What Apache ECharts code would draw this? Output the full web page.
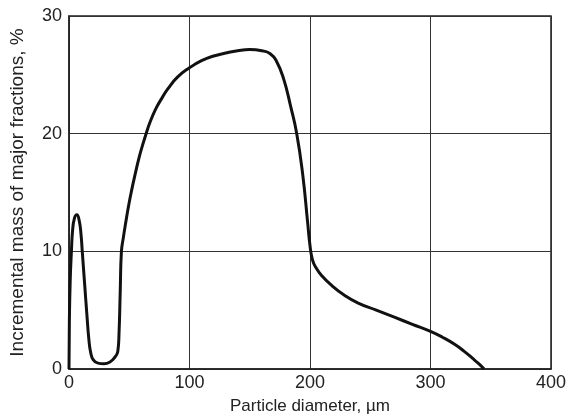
<!DOCTYPE html>
<html>
<head>
<meta charset="utf-8">
<script src="https://cdn.jsdelivr.net/npm/echarts@6/dist/echarts.min.js"></script>
<style>html,body{margin:0;padding:0;background:#fff;}#c{width:569px;height:420px;}</style>
</head>
<body>
<div id="c"></div>
<script>
const diameters = [0, 0.3, 1, 2, 3, 4.5, 6.5, 8.5, 10, 11, 13, 15, 16.5, 18, 20, 24, 29, 34, 38, 40.5, 41.5, 42.5, 43.5, 45, 47, 49.5, 52, 55, 58, 61, 64, 67, 72, 77, 82, 90, 100, 110, 120, 130, 140, 150, 160, 167, 172, 178, 184, 189, 194, 198, 200, 202, 205, 210, 218, 228, 240, 255, 270, 285, 300, 310, 320, 328, 335, 340, 344.5];
const masses    = [0, 4, 7.5, 10, 11.8, 12.8, 13.1, 12.6, 11.4, 10, 7.2, 4.4, 2.5, 1.4, 0.8, 0.5, 0.45, 0.6, 1, 1.5, 3, 6.5, 10, 11.1, 12.4, 13.9, 15.2, 16.6, 17.9, 19, 20, 20.9, 22.1, 23, 23.8, 24.8, 25.6, 26.2, 26.6, 26.85, 27.05, 27.15, 27.05, 26.8, 26.2, 24.7, 22.3, 20, 16.5, 12.5, 10.5, 9.3, 8.6, 7.9, 7.1, 6.3, 5.6, 5, 4.4, 3.8, 3.2, 2.7, 2.1, 1.5, 0.9, 0.45, 0];
const xTicks = [0, 100, 200, 300, 400];
const yTicks = [0, 10, 20, 30];

const data = diameters.map((d, i) => [d, masses[i]]);
const chart = echarts.init(document.getElementById('c'));
const font = 'Liberation Sans, Arial, sans-serif';
chart.setOption({
  animation: false,
  grid: { left: 65, right: 14, top: 16, bottom: 49, show: true, borderColor: '#222', borderWidth: 1.5, backgroundColor: 'transparent' },
  xAxis: {
    type: 'value', min: xTicks[0], max: xTicks[xTicks.length - 1], interval: 100,
    name: 'Particle diameter, µm', nameLocation: 'middle', nameGap: 29,
    nameTextStyle: { fontFamily: font, fontSize: 17, color: '#222' },
    axisLine: { show: true, lineStyle: { color: '#222', width: 1.5 } },
    axisTick: { show: false },
    axisLabel: { fontFamily: font, fontSize: 18, color: '#222', margin: 5 },
    splitLine: { show: true, lineStyle: { color: '#333', width: 1 } }
  },
  yAxis: {
    type: 'value', min: yTicks[0], max: yTicks[yTicks.length - 1], interval: 10,
    name: 'Incremental mass of major fractions, %', nameLocation: 'middle', nameGap: 42,
    nameTextStyle: { fontFamily: font, fontSize: 19, color: '#222' },
    axisLine: { show: true, lineStyle: { color: '#222', width: 1.5 } },
    axisTick: { show: false },
    axisLabel: { fontFamily: font, fontSize: 18, color: '#222', margin: 7 },
    splitLine: { show: true, lineStyle: { color: '#333', width: 1 } }
  },
  series: [{
    type: 'line', data: data, smooth: 0.5, showSymbol: false,
    lineStyle: { color: '#111', width: 3 }
  }]
});
</script>
</body>
</html>
